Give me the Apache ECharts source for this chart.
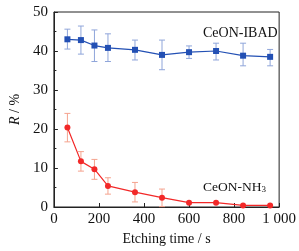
<!DOCTYPE html>
<html><head><meta charset="utf-8">
<script src="https://cdn.jsdelivr.net/npm/echarts@6/dist/echarts.min.js"></script>
<style>html,body{margin:0;padding:0;background:#fff}#c{width:299px;height:251px}</style>
</head><body><div id="c"></div>
<script>
// Data
var times = [60, 120, 180, 240, 360, 480, 600, 720, 840, 960];
var ibadR = [43.0, 42.8, 41.4, 40.8, 40.3, 39.0, 39.7, 40.0, 38.8, 38.5];
var ibadHigh = [45.6, 46.4, 45.4, 44.4, 42.8, 42.8, 41.3, 42.0, 42.0, 40.4];
var ibadLow = [40.5, 39.2, 37.3, 37.3, 37.7, 35.2, 38.1, 37.7, 36.2, 36.2];
var nh3R = [20.4, 11.7, 9.7, 5.4, 3.8, 2.4, 1.1, 1.1, 0.4, 0.4];
var nh3High = [24.0, 14.2, 12.2, 7.5, 6.3, 4.6, 1.1, 1.1, 0.4, 0.4];
var nh3Low = [16.7, 9.2, 7.1, 3.3, 1.3, 0.1, 1.1, 1.1, 0.4, 0.4];
var xTicks = [0, 200, 400, 600, 800, 1000];
var yTicks = [0, 10, 20, 30, 40, 50];

var serif = '"Liberation Serif","DejaVu Serif",serif';
var blue = '#2350b4', blueErr = '#8fa5da';
var red = '#f22828', redErr = '#f5a38e';

function pairs(xs, ys){ return xs.map(function(x,i){return [x, ys[i]];}); }
function errData(xs, lo, hi){ return xs.map(function(x,i){return [x, lo[i], hi[i]];}); }
function errSeries(data, color){
  return {
    type:'custom', data:data, z:1,
    renderItem:function(params, api){
      var x = api.value(0);
      var lo = api.coord([x, api.value(1)]);
      var hi = api.coord([x, api.value(2)]);
      var w = 3;
      var st = {stroke:color, lineWidth:1, fill:null};
      if (Math.abs(hi[1]-lo[1]) < 1) return {type:'group', children:[]};
      return {type:'group', children:[
        {type:'line', shape:{x1:lo[0], y1:lo[1], x2:hi[0], y2:hi[1]}, style:st},
        {type:'line', shape:{x1:lo[0]-w, y1:lo[1], x2:lo[0]+w, y2:lo[1]}, style:st},
        {type:'line', shape:{x1:hi[0]-w, y1:hi[1], x2:hi[0]+w, y2:hi[1]}, style:st}
      ]};
    }
  };
}

var chart = echarts.init(document.getElementById('c'), null, {renderer:'canvas'});
chart.setOption({
  animation:false,
  grid:{left:41, top:12, right:17, bottom:44, show:true, borderColor:'#222', borderWidth:1, backgroundColor:'transparent'},
  xAxis:{
    type:'value', min:0, max:1000, interval:200,
    axisLine:{show:true, lineStyle:{color:'#222', width:1}},
    axisTick:{show:true, inside:true, length:4, lineStyle:{color:'#222'}},
    splitLine:{show:false},
    axisLabel:{color:'#111', fontFamily:serif, fontSize:15, margin:5,
      formatter:function(v){ return v===1000 ? '1 000' : String(v); }},
    name:'Etching time / s', nameLocation:'middle', nameGap:22,
    nameTextStyle:{color:'#111', fontFamily:serif, fontSize:14}
  },
  yAxis:{
    type:'value', min:0, max:50, interval:10,
    axisLine:{show:true, lineStyle:{color:'#222', width:1}},
    axisTick:{show:true, inside:true, length:4, lineStyle:{color:'#222'}},
    minorTick:{show:true, splitNumber:2, length:2.5, lineStyle:{color:'#222'}},
    splitLine:{show:false},
    axisLabel:{color:'#111', fontFamily:serif, fontSize:15, margin:6},
    name:'{i|R} / %', nameLocation:'middle', nameGap:30, nameRotate:90,
    nameTextStyle:{color:'#111', fontFamily:serif, fontSize:14,
      rich:{i:{fontStyle:'italic', fontFamily:serif, fontSize:14, color:'#111'}}}
  },
  series:[
    errSeries(errData(times, ibadLow, ibadHigh), blueErr),
    errSeries(errData(times, nh3Low, nh3High), redErr),
    {type:'line', data:pairs(times, ibadR), z:3, symbol:'rect', symbolSize:6,
      lineStyle:{color:blue, width:1.2}, itemStyle:{color:blue}},
    {type:'line', data:pairs(times, nh3R), z:3, symbol:'circle', symbolSize:6,
      lineStyle:{color:red, width:1.2}, itemStyle:{color:red}}
  ],
  graphic:[
    {type:'text', left:203, top:26, style:{text:'CeON-IBAD', fill:'#111', font:'14px "Liberation Serif", serif'}},
    {type:'text', left:203, top:180, style:{text:'{a|CeON-NH}{b|3}', fill:'#111',
      rich:{a:{fontFamily:serif, fontSize:13.5, fill:'#111', color:'#111'}, b:{fontFamily:serif, fontSize:9, fill:'#111', color:'#111', padding:[6,0,0,0]}}}}
  ]
});
</script></body></html>
